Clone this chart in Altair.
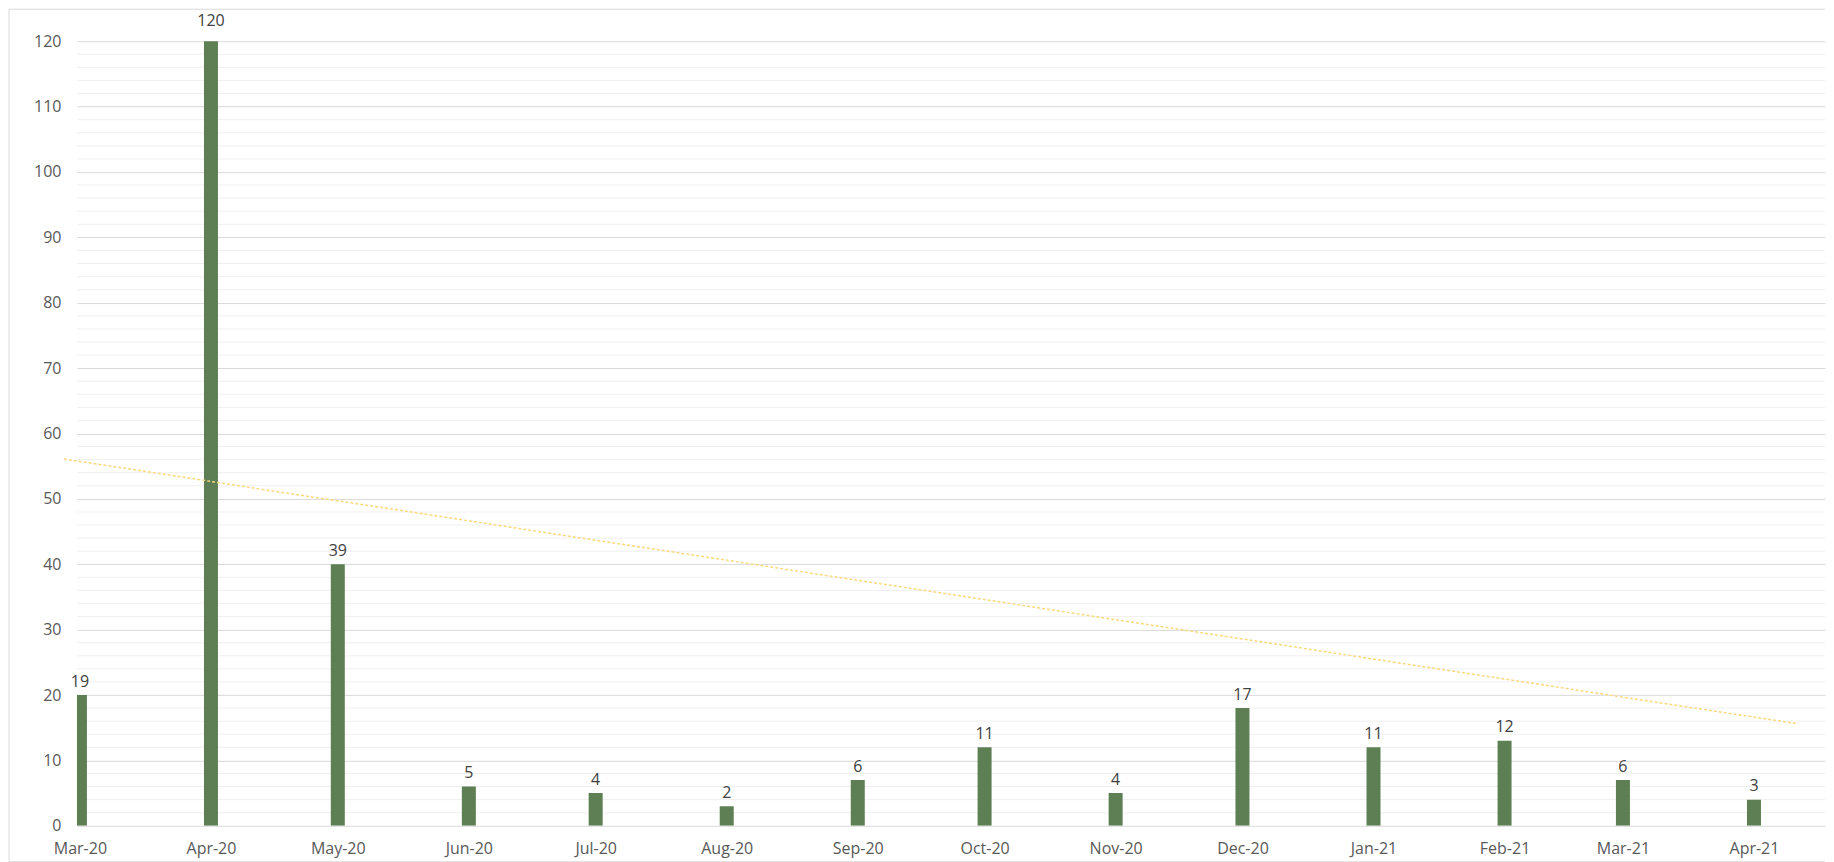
import altair as alt
import pandas as pd

# ---- data ----
months = ["2020-03-01", "2020-04-01", "2020-05-01", "2020-06-01", "2020-07-01",
          "2020-08-01", "2020-09-01", "2020-10-01", "2020-11-01", "2020-12-01",
          "2021-01-01", "2021-02-01", "2021-03-01", "2021-04-01"]
bar_values = [20, 121, 40, 6, 5, 3, 7, 12, 5, 18, 12, 13, 7, 4]
label_values = [19, 120, 39, 5, 4, 2, 6, 11, 4, 17, 11, 12, 6, 3]
trend_dates = ["2020-02-26T05:00:00Z", "2021-04-11T07:00:00Z"]
trend_values = [56.1, 15.6]
major_ticks = list(range(0, 121, 10))
minor_ticks = [v for v in range(2, 121, 2) if v % 10 != 0]

W = 1749
H = 785
FONT = "Open Sans"

bars_df = pd.DataFrame({"month": months, "bar": bar_values, "label": label_values})
trend_df = pd.DataFrame({"date": trend_dates, "value": trend_values})
minor_df = pd.DataFrame({"v": minor_ticks})

x_scale = alt.Scale(
    type="utc",
    padding=0,
    domain=[alt.DateTime(year=2020, month=2, date=29, hours=7, minutes=12, utc=True),
            alt.DateTime(year=2021, month=4, date=17, hours=19, minutes=12, utc=True)],
)
y_scale = alt.Scale(domain=[0, 120], nice=False, zero=True)

x_axis = alt.Axis(
    title=None, format="%b-%y",
    values=[alt.DateTime(year=int(m[:4]), month=int(m[5:7]), date=1, utc=True) for m in months],
    ticks=False, tickSize=0, domain=False, grid=False, labelFontSize=16, labelFont=FONT,
    labelColor="#595959", labelPadding=15, labelFlush=False, labelOverlap=False,
)
y_axis = alt.Axis(
    title=None, values=major_ticks, ticks=False, tickSize=0, domain=False, grid=True,
    gridColor="#d9d9d9", gridWidth=1, labelFontSize=16, labelFont=FONT,
    labelColor="#595959", labelPadding=16,
)

minor = alt.Chart(minor_df).mark_rule(color="#efefef", strokeWidth=1).encode(
    y=alt.Y("v:Q", scale=y_scale, axis=y_axis),
    x=alt.value(0), x2=alt.value(W),
)

bars = alt.Chart(bars_df).mark_bar(size=14, color="#5e7f53", clip=True).encode(
    x=alt.X("month:T", scale=x_scale, axis=x_axis),
    y=alt.Y("bar:Q", scale=y_scale, axis=y_axis),
)

labels = alt.Chart(bars_df).mark_text(
    dy=-13.5, baseline="middle", align="center", fontSize=16, font=FONT, color="#404040"
).encode(
    x=alt.X("month:T", scale=x_scale),
    y=alt.Y("bar:Q", scale=y_scale),
    text=alt.Text("label:Q"),
)

trend = alt.Chart(trend_df).mark_line(
    color="#f9d97f", strokeWidth=1.5, strokeDash=[3, 2]
).encode(
    x=alt.X("date:T", scale=x_scale),
    y=alt.Y("value:Q", scale=y_scale),
)

border_df = pd.DataFrame({"k": [0]})
left_border = alt.Chart(border_df).mark_rule(color="#d9d9d9", strokeWidth=1).encode(
    x=alt.value(-68), y=alt.value(-32), y2=alt.value(H + 36)
)
top_border = alt.Chart(border_df).mark_rule(color="#d9d9d9", strokeWidth=1).encode(
    x=alt.value(-68), x2=alt.value(W), y=alt.value(-32)
)
bottom_border = alt.Chart(border_df).mark_rule(color="#d9d9d9", strokeWidth=1).encode(
    x=alt.value(-68), x2=alt.value(W), y=alt.value(H + 36)
)

chart = alt.layer(minor, bars, labels, trend, left_border, top_border, bottom_border).properties(
    width=W, height=H, padding=0, background="white"
).configure_view(stroke=None).configure_axis(labelFont=FONT)

chart.save("out.html", embed_options={"renderer": "svg", "actions": False})
